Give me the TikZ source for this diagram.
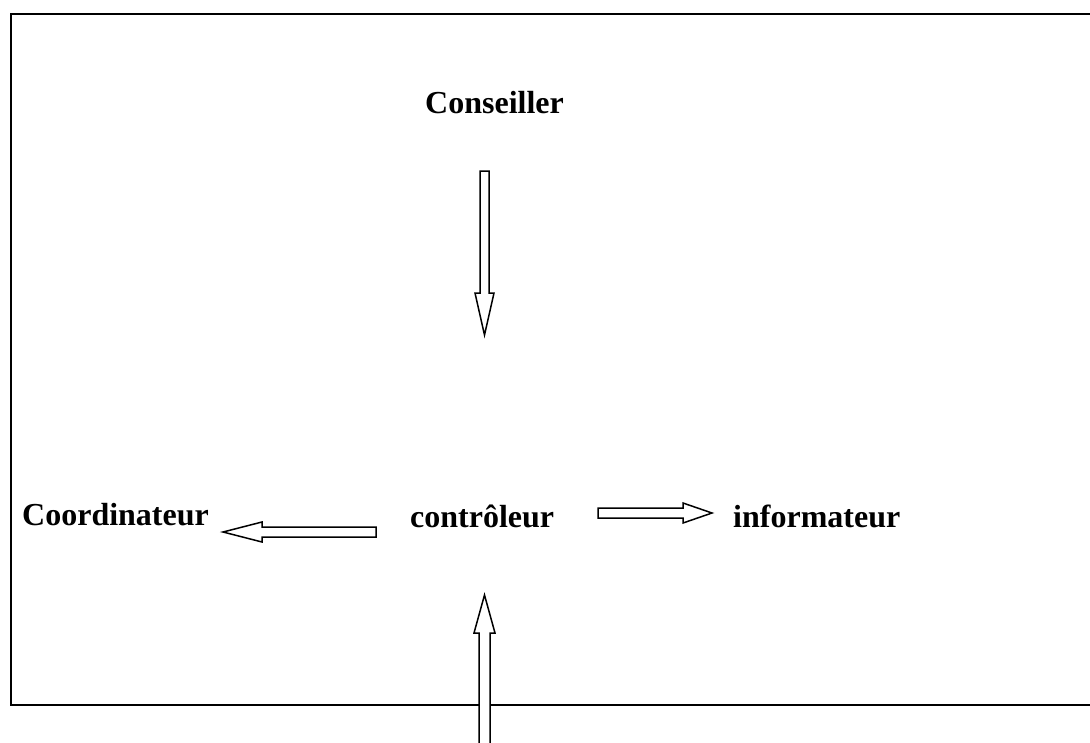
\documentclass[tikz,border=0pt]{standalone}
\usepackage{fontspec}
\setmainfont{Liberation Serif}
\begin{document}
\begin{tikzpicture}[x=1pt,y=-1pt,
  label/.style={font=\fontsize{32}{38}\selectfont\bfseries, inner sep=0pt, anchor=base west},
  frame/.style={line width=2pt, line cap=rect},
  blockarrow/.style={draw=black, fill=white, line width=1.5pt, line join=miter}]
\useasboundingbox (0,0) rectangle (1090,742);
% open frame (no right side)
\draw[frame] (1090,14) -- (11,14) -- (11,705) -- (1090,705);
% role labels
\node[label] (cons) at (425,113) {Conseiller};
\node[label] (coord) at (22,525) {Coordinateur};
\node[label] (ctrl) at (410,527) {contrôleur};
\node[label] (info) at (733,527) {informateur};
% hollow block arrows
\draw[blockarrow] (480,171) -- (489,171) -- (489,293) -- (494,293) -- (484.5,335) -- (475,293) -- (480,293) -- cycle;
\draw[blockarrow] (376,527) -- (376,537) -- (262,537) -- (262,542) -- (223,532) -- (262,522) -- (262,527) -- cycle;
\draw[blockarrow] (598,508) -- (683,508) -- (683,503) -- (712,513) -- (683,523) -- (683,518) -- (598,518) -- cycle;
\draw[blockarrow] (479,750) -- (479,633) -- (474,633) -- (484.5,595) -- (495,633) -- (490,633) -- (490,750);
\end{tikzpicture}
\end{document}
